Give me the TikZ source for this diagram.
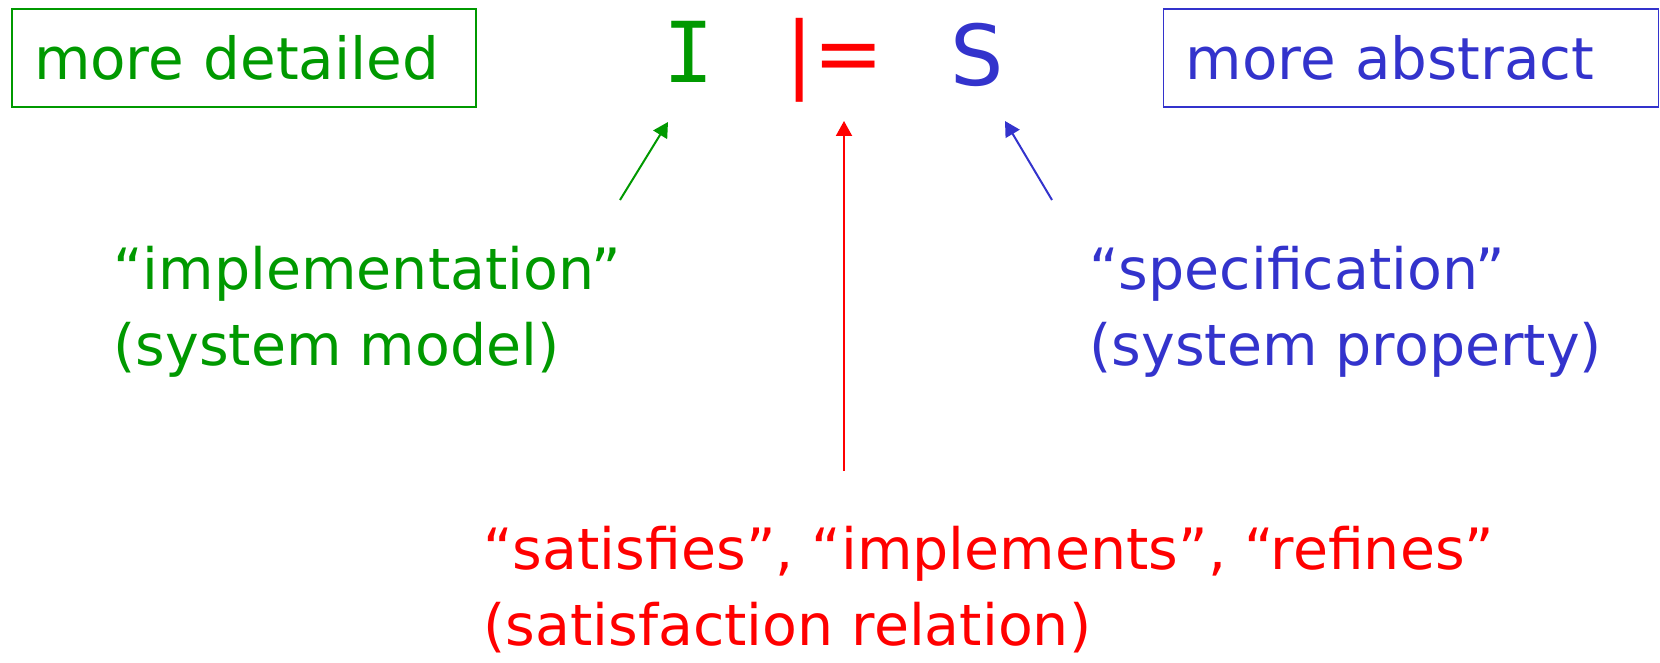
\documentclass[tikz,border=0pt]{standalone}
\usepackage{fontspec}
\setmainfont{DejaVu Sans}
\newfontfamily\symfont{DejaVu Sans Mono}
\usepackage{xcolor}
\usetikzlibrary{positioning, arrows.meta}
\definecolor{implgreen}{HTML}{009900}
\definecolor{specblue}{HTML}{3333CC}
\definecolor{satred}{HTML}{FF0000}

\begin{document}
\begin{tikzpicture}[x=0.5pt, y=-0.5pt,
    levelbox/.style={draw, line width=0.7pt, inner xsep=11pt, inner ysep=0pt,
                     minimum height=49pt, align=left, font=\fontsize{29}{35}\selectfont},
    bigsym/.style={anchor=base, inner sep=0pt, font=\fontsize{42}{50}\selectfont},
    desctext/.style={anchor=base west, align=left, inner sep=0pt,
                     font=\fontsize{28.5}{38}\selectfont},
    relarrow/.style={-{Triangle[length=7.5pt, width=8pt]}, line width=1pt}]
  \useasboundingbox (0,0) rectangle (1660,663);

  % the two levels
  \node[levelbox, implgreen, text width=210pt] (detailed) at (244,58) {more detailed};
  \node[levelbox, specblue, text width=225.5pt] (abstract) at (1411,58) {more abstract};

  % I |= S
  \node[bigsym, implgreen, font=\symfont\fontsize{42}{50}\selectfont] (I) at (689,83) {I};
  \node[bigsym, satred] (sat) at (835,83) {|=};
  \node[bigsym, specblue] (S) at (977,86) {S};

  % what each part means (base = last line)
  \node[desctext, implgreen] (impl) at (113,365) {“implementation”\\(system model)};
  \node[desctext, specblue] (spec) at (1089,365) {“specification”\\(system property)};
  \node[desctext, satred] (rel) at (483,645)
    {“satisfies”, “implements”, “refines”\\(satisfaction relation)};

  \coordinate (impltail) at (620,200);
  \coordinate (spectail) at (1052,200);
  \coordinate (reltail) at (844,471);
  \draw[relarrow, implgreen] (impltail) -- ([shift={(-21,39)}]I.base);
  \draw[relarrow, satred] (reltail) -- ([shift={(9,38)}]sat.base);
  \draw[relarrow, specblue] (spectail) -- ([shift={(28,35)}]S.base);
\end{tikzpicture}
\end{document}
